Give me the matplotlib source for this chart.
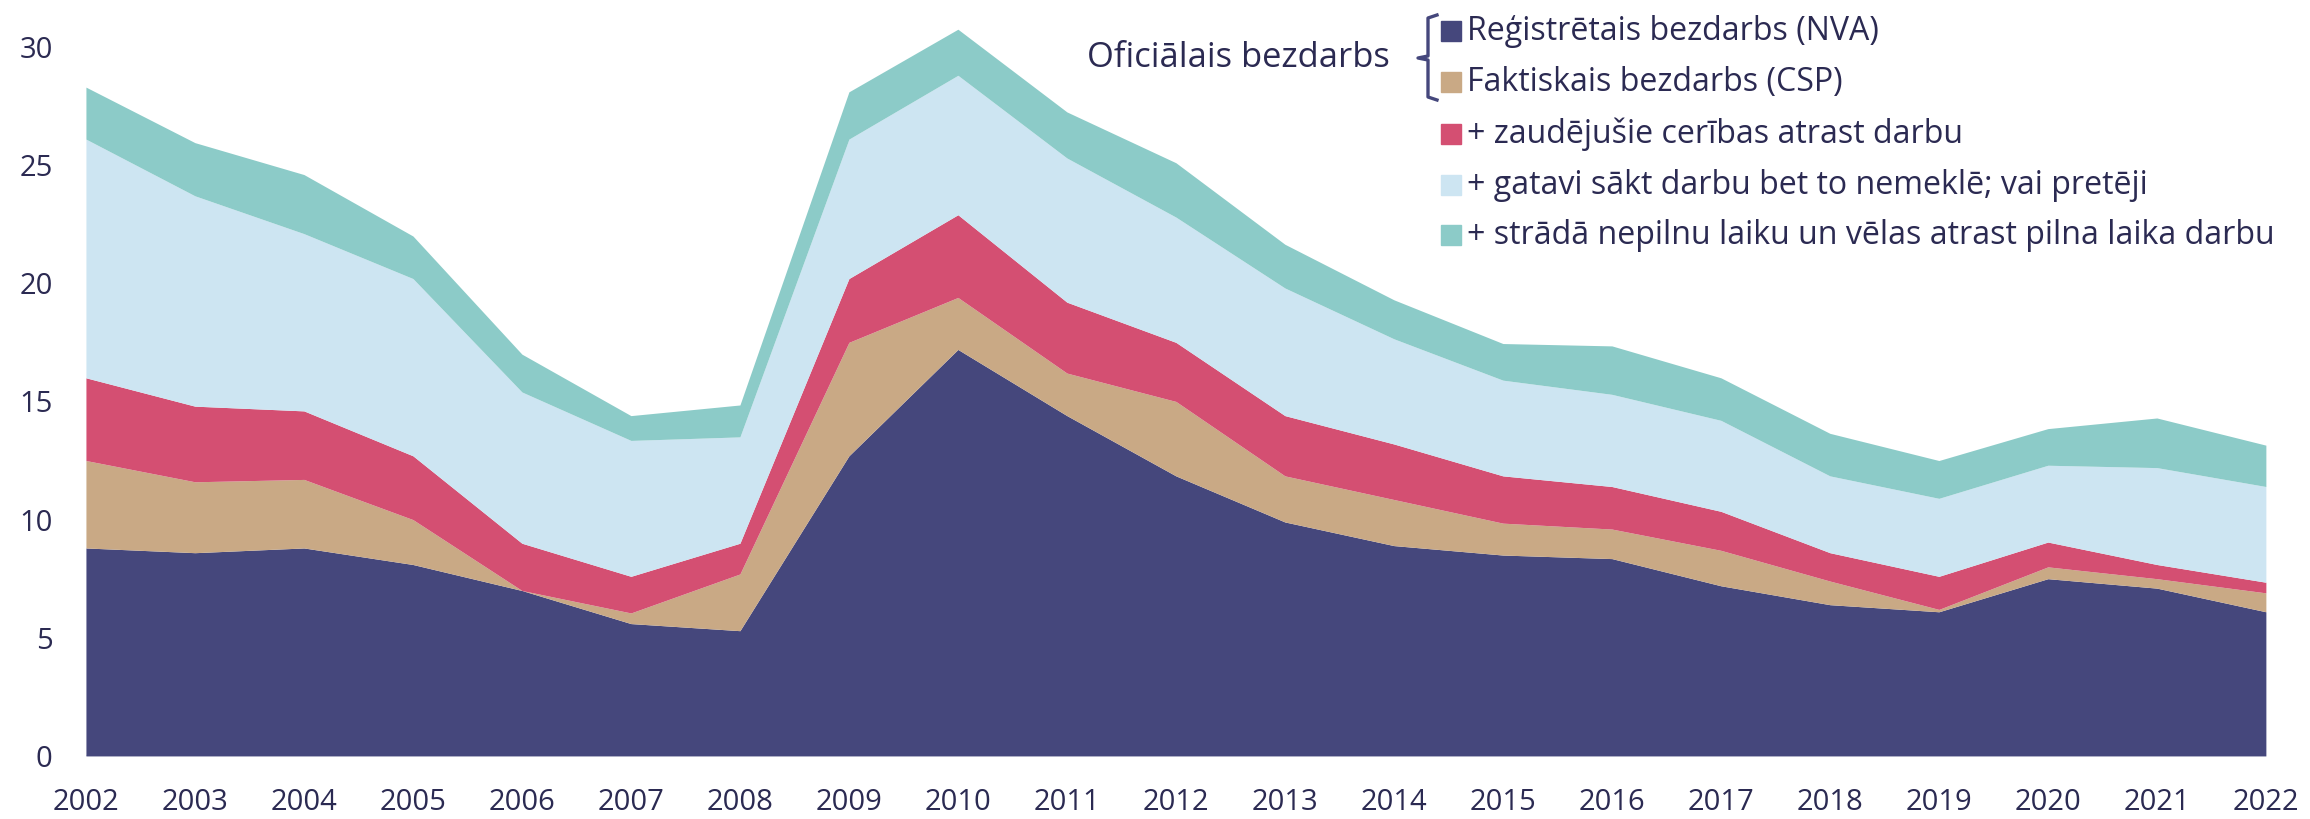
import matplotlib
matplotlib.use("Agg")
import matplotlib.pyplot as plt
from matplotlib.lines import Line2D
from matplotlib.patches import Rectangle

# Cumulative levels (percent), one list per stacked layer top
years = list(range(2002, 2023))
nva = [8.8, 8.6, 8.8, 8.1, 7.0, 5.6, 5.3, 12.7, 17.2, 14.4, 11.85, 9.9, 8.9, 8.5, 8.35, 7.2, 6.4, 6.1, 7.5, 7.1, 6.1]
csp = [12.5, 11.6, 11.7, 10.0, 7.0, 6.05, 7.7, 17.5, 19.4, 16.2, 15.0, 11.85, 10.85, 9.85, 9.6, 8.7, 7.4, 6.2, 8.0, 7.5, 6.9]
discouraged = [16.0, 14.8, 14.6, 12.7, 9.0, 7.6, 9.0, 20.2, 22.9, 19.2, 17.5, 14.4, 13.2, 11.85, 11.4, 10.35, 8.6, 7.6, 9.05, 8.1, 7.35]
ready = [26.1, 23.7, 22.1, 20.2, 15.4, 13.35, 13.5, 26.1, 28.8, 25.3, 22.8, 19.8, 17.65, 15.9, 15.3, 14.2, 11.85, 10.9, 12.3, 12.2, 11.4]
parttime = [28.3, 25.95, 24.6, 22.0, 17.0, 14.4, 14.85, 28.1, 30.75, 27.25, 25.1, 21.65, 19.3, 17.45, 17.35, 16.0, 13.65, 12.5, 13.85, 14.3, 13.15]

labels = [
    "Reģistrētais bezdarbs (NVA)",
    "Faktiskais bezdarbs (CSP)",
    "+ zaudējušie cerības atrast darbu",
    "+ gatavi sākt darbu bet to nemeklē; vai pretēji",
    "+ strādā nepilnu laiku un vēlas atrast pilna laika darbu",
]
colors = ["#45477c", "#c9a985", "#d44f72", "#cde5f2", "#8ccbc8"]
TEXT = "#2b2a52"

plt.rcParams["font.family"] = ["Open Sans", "DejaVu Sans"]

fig = plt.figure(figsize=(23.1, 8.19), dpi=100)
ax = fig.add_axes([0.0372, 0.077, 0.9437, 0.8657])

layers = [nva, csp, discouraged, ready, parttime]
base = [0] * len(years)
for top, c in zip(layers, colors):
    ax.fill_between(years, base, top, color=c, linewidth=0, clip_on=False)
    base = top

ax.axhline(0, color="#dfe3ee", lw=1.5, zorder=0)
ax.set_xlim(2002, 2022)
ax.set_ylim(0, 30)
ax.set_xticks(years)
ax.set_yticks(range(0, 31, 5))
ax.tick_params(length=0, labelsize=21, colors=TEXT)
ax.tick_params(axis="x", pad=23)
ax.tick_params(axis="y", pad=24)
for s in ax.spines.values():
    s.set_visible(False)

# Legend built by hand (figure pixel coordinates -> fractions)
W, H = 2310, 819
leg_y = [31, 82, 134, 185, 235]
for y, lab, c in zip(leg_y, labels, colors):
    fig.patches.append(Rectangle((1441 / W, 1 - (y + 10) / H), 20 / W, 20 / H,
                                 transform=fig.transFigure, color=c))
    fig.text(1467 / W, 1 - y / H, lab, fontsize=23.1, color=TEXT, va="center", ha="left")

fig.text(1390 / W, 1 - 58 / H, "Oficiālais bezdarbs", fontsize=24.8, color=TEXT,
         va="center", ha="right")

# brace grouping the two official measures
bx = [1437, 1428, 1428, 1418, 1428, 1428, 1437]
by = [15, 18, 56, 58, 60, 97, 100]
fig.lines.append(Line2D([x / W for x in bx], [1 - y / H for y in by],
                        transform=fig.transFigure, color="#45477c", lw=2.4))

fig.savefig("out.png", dpi=100, facecolor="white")
